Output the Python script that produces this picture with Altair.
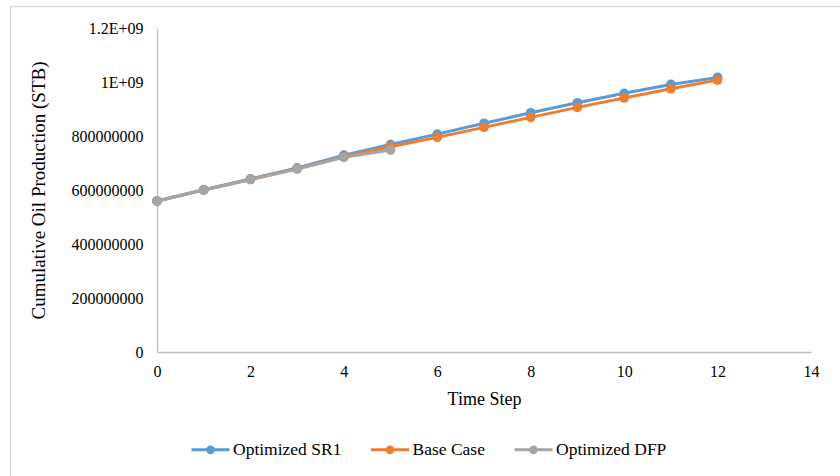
import altair as alt
import pandas as pd

steps_sr1 = list(range(13))
sr1 = [0.559e9, 0.601e9, 0.641e9, 0.682e9, 0.729e9, 0.769e9, 0.807e9, 0.847e9,
       0.886e9, 0.923e9, 0.958e9, 0.991e9, 1.017e9]
steps_base = list(range(13))
base = [0.559e9, 0.600e9, 0.639e9, 0.679e9, 0.723e9, 0.760e9, 0.795e9, 0.832e9,
        0.869e9, 0.906e9, 0.941e9, 0.975e9, 1.007e9]
steps_dfp = list(range(6))
dfp = [0.559e9, 0.600e9, 0.639e9, 0.678e9, 0.721e9, 0.748e9]

series_names = ["Optimized SR1", "Base Case", "Optimized DFP"]
series_colors = ["#5B9BD5", "#ED7D31", "#A5A5A5"]

y_ticks = [0, 2e8, 4e8, 6e8, 8e8, 1e9, 1.2e9]
y_labels = ["0", "200000000", "400000000", "600000000", "800000000", "1E+09", "1.2E+09"]
x_ticks = [0, 2, 4, 6, 8, 10, 12, 14]

rows = []
for name, xs, ys in zip(series_names, [steps_sr1, steps_base, steps_dfp], [sr1, base, dfp]):
    for i, (x, y) in enumerate(zip(xs, ys)):
        rows.append({"step": x, "value": y, "series": name, "order": i})
df = pd.DataFrame(rows)

FONT = "Liberation Serif"
label_expr = "[" + ",".join(f"'{l}'" for l in y_labels) + "][indexof([" + ",".join(
    str(int(t)) for t in y_ticks) + "], datum.value)]"


def ring(r):
    return f"M{-r},0A{r},{r},0,1,0,{r},0A{r},{r},0,1,0,{-r},0Z"


legend_symbol = "M-1,0L1,0" + "".join(ring(r) for r in (0.03, 0.07, 0.11, 0.15))

legend = alt.Legend(
    title=None,
    orient="none",
    direction="horizontal",
    legendX=33,
    legendY=401,
    symbolType=legend_symbol,
    symbolSize=1444,
    symbolStrokeWidth=3,
    symbolOpacity=1,
    labelFont=FONT,
    labelFontSize=17.5,
    labelColor="#000000",
    labelOffset=2,
    columnPadding=22.5,
)

x_enc = alt.X(
    "step:Q",
    scale=alt.Scale(domain=[0, 14], nice=False, zero=False),
    axis=alt.Axis(
        values=x_ticks, title="Time Step", grid=False, ticks=False,
        labelFont=FONT, labelFontSize=16, labelColor="#000000", labelPadding=11,
        titleFont=FONT, titleFontSize=18, titleFontWeight="normal", titleColor="#000000",
        titleBaseline="alphabetic", titleY=52, titleX=327,
        domainColor="#BFBFBF", domainWidth=1.3,
        labelFlush=False,
    ),
)
y_enc = alt.Y(
    "value:Q",
    scale=alt.Scale(domain=[0, 1.2e9], nice=False),
    axis=alt.Axis(
        values=y_ticks, labelExpr=label_expr, title="Cumulative Oil Production (STB)",
        grid=False, ticks=False,
        labelFont=FONT, labelFontSize=16, labelColor="#000000", labelPadding=14,
        titleFont=FONT, titleFontSize=19, titleFontWeight="normal", titleColor="#000000",
        titleAngle=270, titleAlign="center", titleBaseline="middle",
        titleX=-119, titleY=162,
        domainColor="#BFBFBF", domainWidth=1.3,
        labelFlush=False,
    ),
)

lines = alt.Chart(df).mark_line(strokeWidth=3).encode(
    x=x_enc, y=y_enc,
    color=alt.Color("series:N", scale=alt.Scale(domain=series_names, range=series_colors),
                    legend=legend),
    order="order:Q",
)
points = alt.Chart(df).mark_point(filled=True, size=95, opacity=1).encode(
    x=x_enc, y=y_enc,
    fill=alt.Fill("series:N", scale=alt.Scale(domain=series_names, range=series_colors),
                  legend=None),
)

border = alt.Chart(alt.Data(values=[{}])).mark_rect(
    filled=False, stroke="#D9D9D9", strokeWidth=1.3
).encode(
    x=alt.value(-146.5), x2=alt.value(700), y=alt.value(-21.5), y2=alt.value(470)
)

chart = alt.layer(border, lines, points).properties(
    width=654,
    height=324,
    padding={"left": 157, "top": 28, "right": 29, "bottom": 124},
    autosize=alt.AutoSizeParams(type="none"),
    background="#FFFFFF",
).configure_view(stroke=None).configure_legend(labelFont=FONT)

chart.save("out.html", embed_options={"renderer": "svg", "actions": False})
